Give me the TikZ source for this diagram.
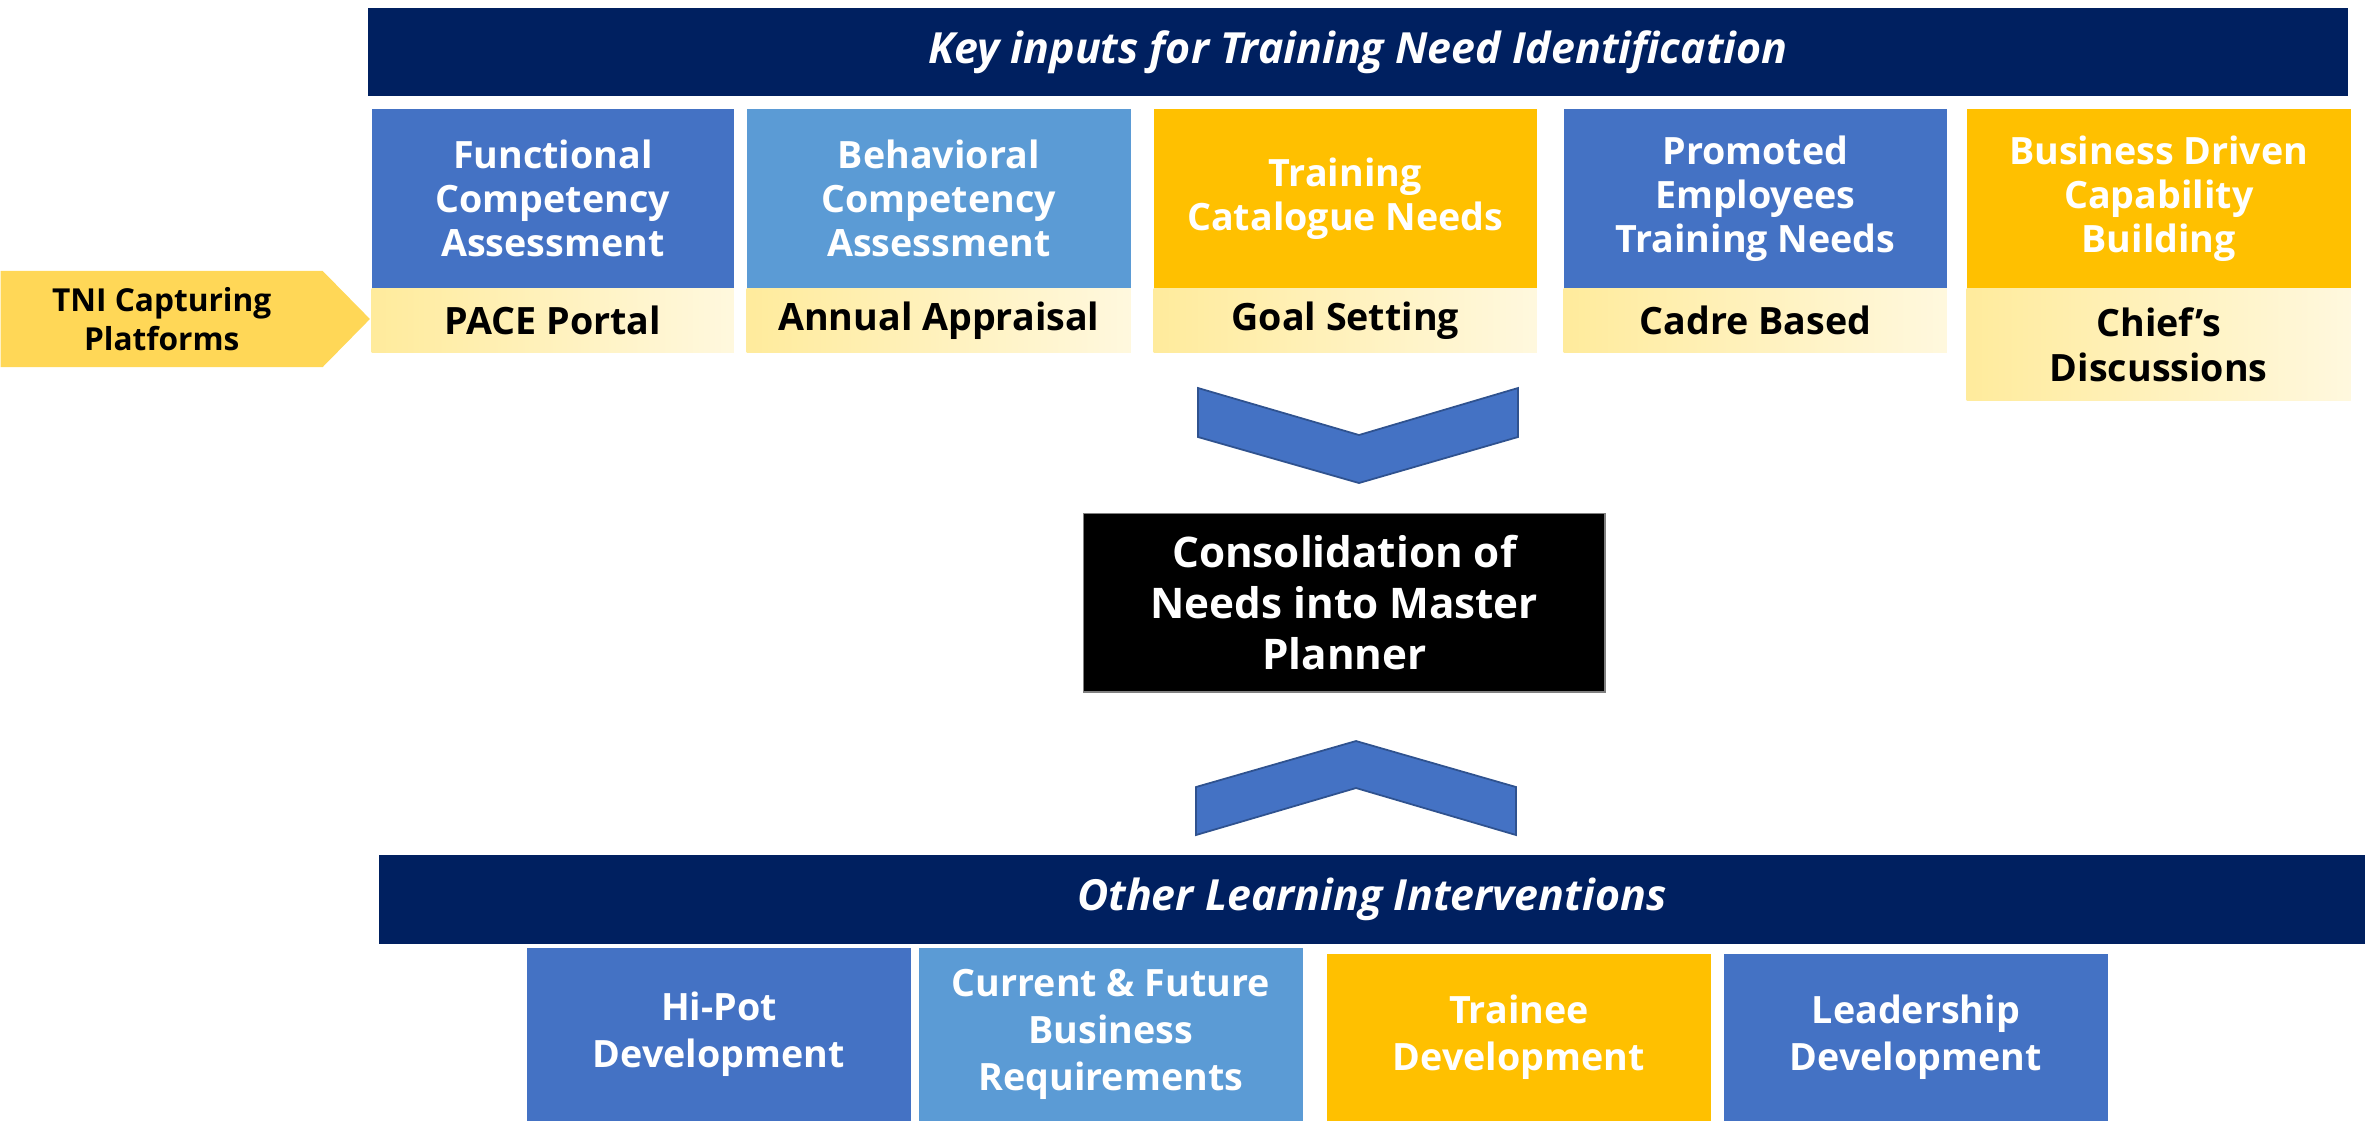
\documentclass[tikz,border=0pt]{standalone}
\usepackage{fontspec}
\setmainfont{Open Sans}
\usepackage{tikz}
\usetikzlibrary{positioning, shapes.symbols}

\definecolor{navy}{HTML}{002060}
\definecolor{midblue}{HTML}{4472C4}
\definecolor{skyblue}{HTML}{5B9BD5}
\definecolor{gold}{HTML}{FFC000}
\definecolor{paleA}{HTML}{FFEB9C}
\definecolor{paleB}{HTML}{FFF8DE}
\definecolor{tniyellow}{HTML}{FFD757}
\definecolor{chevline}{HTML}{2F528F}

\begin{document}
\begin{tikzpicture}[
        x=0.01cm, y=-0.01cm,
        banner/.style={anchor=north west, fill=navy, text=white, inner sep=0pt, font=\bfseries\itshape\fontsize{12.2}{14}\selectfont},
        inputbox/.style={anchor=north west, inner sep=2pt, align=center, text=white, font=\bfseries\fontsize{10.7}{12.5}\selectfont},
        platform/.style={anchor=north west, inner sep=2pt, align=center, left color=paleA, right color=paleB, font=\bfseries\fontsize{10.7}{12.9}\selectfont},
        otherbox/.style={anchor=north west, inner sep=2pt, align=center, text=white, font=\bfseries\fontsize{10.7}{13.3}\selectfont},
        chevron/.style={fill=midblue, draw=chevline, line width=0.5pt, line join=miter}
    ]
    \useasboundingbox (0,0) rectangle (2366,1120);

    \node[banner, minimum width=19.79cm, minimum height=0.88cm] (keyinputs) at (367,7) {Key inputs for Training Need Identification};

    % input boxes with their capturing platform underneath
    \foreach \name/\xl/\bw/\col/\txt/\lh/\lbl in {
        func/371/3.62/midblue/{Functional\\Competency\\Assessment}/0.64/{PACE Portal},
        behav/746/3.84/skyblue/{Behavioral\\Competency\\Assessment}/0.64/{Annual Appraisal},
        catal/1153/3.83/gold/{Training\\Catalogue Needs}/0.64/{Goal Setting},
        promo/1563/3.83/midblue/{Promoted\\Employees\\Training Needs}/0.64/{Cadre Based},
        busin/1966/3.84/gold/{Business Driven\\Capability\\Building}/1.12/{Chief's\\Discussions}} {
        \node[inputbox, fill=\col, minimum width=\bw cm, minimum height=1.80cm] (\name) at (\xl,108) {\txt};
        \node[platform, minimum width=\bw cm, minimum height=\lh cm] (\name-lbl) at (\xl,288) {\lbl};
    }

    \node[signal, signal to=east, signal pointer angle=91, fill=tniyellow, anchor=west, align=center,
          minimum width=3.69cm, minimum height=0.96cm, inner sep=0pt,
          font=\bfseries\fontsize{9}{11.1}\selectfont] (tni) at (0,319) {TNI Capturing\\Platforms};

    % chevrons around the master planner
    \draw[chevron] (1198,388) -- (1359,435) -- (1518,388) -- (1518,437) -- (1359,483) -- (1198,437) -- cycle;
    \node[anchor=north west, fill=black, draw=gray, text=white, align=center, minimum width=5.21cm, minimum height=1.78cm,
          font=\bfseries\fontsize{12}{14.5}\selectfont] (master) at (1083,513) {Consolidation of\\Needs into Master\\Planner};
    \draw[chevron] (1196,787) -- (1356,741) -- (1516,787) -- (1516,835) -- (1356,788) -- (1196,835) -- cycle;

    \node[banner, minimum width=19.85cm, minimum height=0.89cm] (otherlearn) at (378,854) {Other Learning Interventions};

    \foreach \name/\xl/\yt/\col/\txt in {
        hipot/526/947/midblue/{Hi-Pot\\Development},
        currfut/918/947/skyblue/{Current \& Future\\Business\\Requirements},
        trainee/1326/953/gold/{Trainee\\Development},
        leader/1723/953/midblue/{Leadership\\Development}} {
        \node[otherbox, fill=\col, minimum width=3.84cm, minimum height={(1120-\yt)/100*1cm}] (\name) at (\xl,\yt) {\txt};
    }
\end{tikzpicture}
\end{document}
